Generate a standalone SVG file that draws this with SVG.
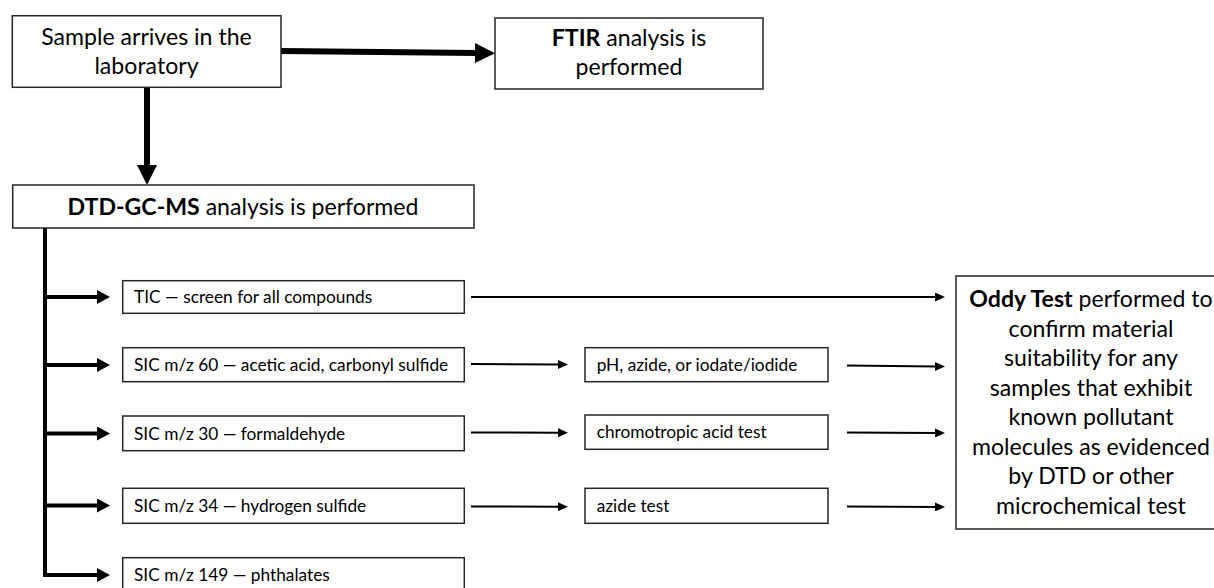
<svg xmlns="http://www.w3.org/2000/svg" width="1214" height="588" viewBox="0 0 1214 588">
<style>
.box{fill:#fff;stroke:#262626;stroke-width:1.5}
.big{font-family:Lato,"Liberation Sans",sans-serif;font-size:23.1px;fill:#000}
.sm{font-family:Lato,"Liberation Sans",sans-serif;font-size:17.3px;fill:#000}
.b{font-weight:bold}
.c{text-anchor:middle}
.thick{stroke:#000;stroke-width:6;fill:none}
.med{stroke:#000;stroke-width:4;fill:none}
.thin{stroke:#000;stroke-width:2;fill:none}
</style>
<defs>
<marker id="hBig" viewBox="0 0 20 20" markerWidth="20" markerHeight="20" refX="2" refY="10" orient="auto" markerUnits="userSpaceOnUse"><path d="M0,0 L20,10 L0,20 z" fill="#000"/></marker>
<marker id="hMed" viewBox="0 0 13 14" markerWidth="13" markerHeight="14" refX="1" refY="7" orient="auto" markerUnits="userSpaceOnUse"><path d="M0,0 L13,7 L0,14 z" fill="#000"/></marker>
<marker id="hSm" viewBox="0 0 10 9" markerWidth="10" markerHeight="9" refX="1" refY="4.5" orient="auto" markerUnits="userSpaceOnUse"><path d="M0,0 L10,4.5 L0,9 z" fill="#000"/></marker>
</defs>
<rect width="1214" height="588" fill="#fff"/>
<g id="connectors">
<line class="thick" x1="281" y1="51" x2="477" y2="53" marker-end="url(#hBig)"/>
<line class="thick" x1="147" y1="87" x2="147" y2="167" marker-end="url(#hBig)"/>
<path class="med" d="M45,228 V575 H98" marker-end="url(#hMed)"/>
<line class="med" x1="45" y1="297" x2="98" y2="297" marker-end="url(#hMed)"/>
<line class="med" x1="45" y1="365" x2="98" y2="365" marker-end="url(#hMed)"/>
<line class="med" x1="45" y1="433.5" x2="98" y2="433.5" marker-end="url(#hMed)"/>
<line class="med" x1="45" y1="505.5" x2="98" y2="505.5" marker-end="url(#hMed)"/>
<line class="thin" x1="471" y1="297" x2="936" y2="297" marker-end="url(#hSm)"/>
<line class="thin" x1="471" y1="364" x2="559" y2="364.5" marker-end="url(#hSm)"/>
<line class="thin" x1="471" y1="432.5" x2="559" y2="432.7" marker-end="url(#hSm)"/>
<line class="thin" x1="471" y1="506.5" x2="559" y2="506.7" marker-end="url(#hSm)"/>
<line class="thin" x1="847" y1="365.5" x2="936" y2="366.5" marker-end="url(#hSm)"/>
<line class="thin" x1="847" y1="432.5" x2="936" y2="433" marker-end="url(#hSm)"/>
<line class="thin" x1="847" y1="506.5" x2="936" y2="507" marker-end="url(#hSm)"/>
</g>
<g id="sample">
<rect class="box" x="12.3" y="15.7" width="268.7" height="71.6"/>
<text class="big c" x="146.5" y="45">Sample arrives in the</text>
<text class="big c" x="146.5" y="74">laboratory</text>
</g>
<g id="ftir">
<rect class="box" x="495" y="18" width="268" height="71"/>
<text class="big c" x="629" y="46"><tspan class="b">FTIR</tspan> analysis is</text>
<text class="big c" x="629" y="75">performed</text>
</g>
<g id="dtd">
<rect class="box" x="12.7" y="185" width="461.3" height="43"/>
<text class="big c" x="243" y="215"><tspan class="b">DTD-GC-MS</tspan> analysis is performed</text>
</g>
<g id="tic">
<rect class="box" x="122.7" y="280.7" width="341.6" height="32.6"/>
<text class="sm" x="134" y="303">TIC — screen for all compounds</text>
</g>
<g id="sic60">
<rect class="box" x="122.7" y="347.7" width="341.6" height="34"/>
<text class="sm" x="134" y="371">SIC m/z 60 — acetic acid, carbonyl sulfide</text>
</g>
<g id="sic30">
<rect class="box" x="122.7" y="416" width="341.6" height="34.7"/>
<text class="sm" x="134" y="439.5">SIC m/z 30 — formaldehyde</text>
</g>
<g id="sic34">
<rect class="box" x="122.7" y="488.3" width="341.6" height="35"/>
<text class="sm" x="134" y="512">SIC m/z 34 — hydrogen sulfide</text>
</g>
<g id="sic149">
<rect class="box" x="122.7" y="557.7" width="341.6" height="40"/>
<text class="sm" x="134" y="581">SIC m/z 149 — phthalates</text>
</g>
<g id="ph">
<rect class="box" x="585" y="347.7" width="243" height="34"/>
<text class="sm" x="596.7" y="371">pH, azide, or iodate/iodide</text>
</g>
<g id="chromo">
<rect class="box" x="585" y="415" width="243" height="34.3"/>
<text class="sm" x="596.7" y="438">chromotropic acid test</text>
</g>
<g id="azide">
<rect class="box" x="585" y="488.3" width="243" height="35"/>
<text class="sm" x="596.7" y="512">azide test</text>
</g>
<g id="oddy">
<rect class="box" x="956" y="276" width="272" height="253"/>
<text class="big c" x="1091" y="307"><tspan class="b">Oddy Test</tspan> performed to</text>
<text class="big c" x="1091" y="336.5">confirm material</text>
<text class="big c" x="1091" y="366">suitability for any</text>
<text class="big c" x="1091" y="395.5">samples that exhibit</text>
<text class="big c" x="1091" y="425">known pollutant</text>
<text class="big c" x="1091" y="454.5">molecules as evidenced</text>
<text class="big c" x="1091" y="484">by DTD or other</text>
<text class="big c" x="1091" y="513.5">microchemical test</text>
</g>
</svg>
